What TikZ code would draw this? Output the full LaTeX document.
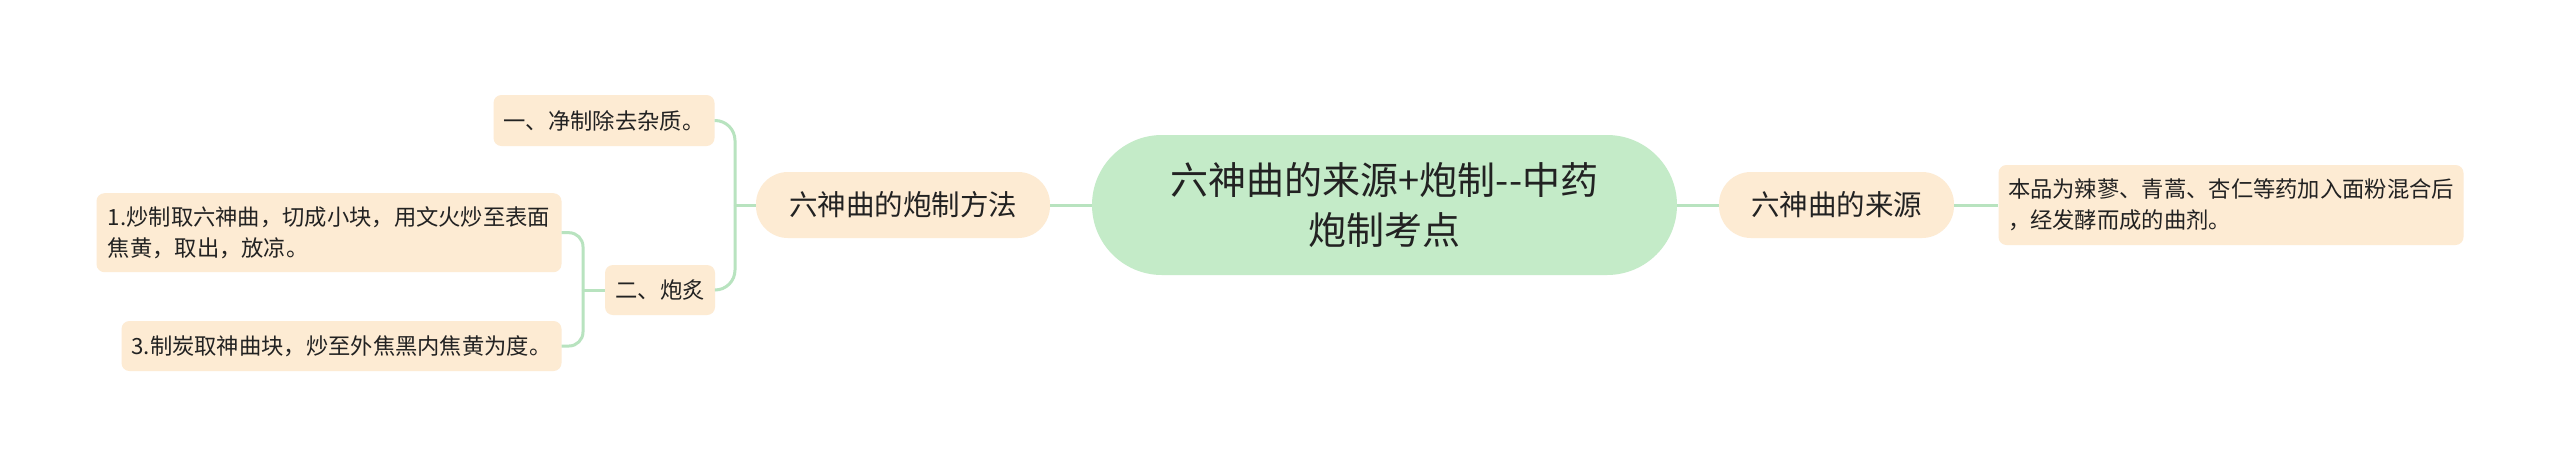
\documentclass[tikz,border=0pt]{standalone}
\usepackage{fontspec}
\setmainfont{Noto Sans CJK SC}
\usepackage{tikz}
\usetikzlibrary{positioning,calc}

\definecolor{rootgreen}{HTML}{C4EBC8}
\definecolor{peach}{HTML}{FDEBD3}
\definecolor{linegreen}{HTML}{B8E3BF}
\definecolor{ink}{HTML}{222222}

\tikzset{
  rootbox/.style={fill=rootgreen,rounded corners=70pt,inner sep=0pt,align=center,text=ink,
    minimum width=585pt,minimum height=140pt,font=\fontsize{38pt}{50pt}\selectfont},
  topicbox/.style={fill=peach,rounded corners=32pt,inner sep=0pt,text=ink,
    minimum height=66pt,font=\fontsize{28.5pt}{34pt}\selectfont},
  leafbox/.style={fill=peach,rounded corners=8pt,inner sep=0pt,align=left,text=ink,
    minimum height=50pt,font=\fontsize{22.3pt}{31pt}\selectfont},
  branch/.style={draw=linegreen,line width=3pt}
}

\begin{document}
\begin{tikzpicture}[x=1pt,y=-1pt]
            \useasboundingbox[fill=white] (0,0) rectangle (2560,467);

            % Central topic
            \node[rootbox] (root) at (1384.5,205) {六神曲的来源+炮制-{}-中药\\炮制考点};

            % Main branches
            \node[topicbox,minimum width=294pt] (method) at (903,205) {六神曲的炮制方法};
            \node[topicbox,minimum width=235pt] (source) at (1836.5,205) {六神曲的来源};

            % Right side leaf
            \node[leafbox,minimum width=465pt,minimum height=80pt] (sourceText) at (2231,205)
                {本品为辣蓼、青蒿、杏仁等药加入面粉混合后\\，经发酵而成的曲剂。};

            % Left side leaves
            \node[leafbox,minimum width=221pt,minimum height=51pt] (clean) at (604,120.5) {一、净制除去杂质。};
            \node[leafbox,minimum width=110pt] (process) at (660,290) {二、炮炙};
            \node[leafbox,minimum width=465pt,minimum height=79pt] (fry) at (329,232.7)
                {1.炒制取六神曲，切成小块，用文火炒至表面\\焦黄，取出，放凉。};
            \node[leafbox,minimum width=440pt] (char) at (341.5,346) {3.制炭取神曲块，炒至外焦黑内焦黄为度。};

            % Fork points
            \coordinate (methodFork) at (735,205);
            \coordinate (processFork) at (583,290);

            % Straight branches
            \draw[branch] (root.west) -- (method.east);
            \draw[branch] (root.east) -- (source.west);
            \draw[branch] (source.east) -- (sourceText.west);

            % Left side brackets
            \draw[branch] (method.west) -- (methodFork);
            \draw[branch,rounded corners=20pt] (methodFork) |- (clean.east);
            \draw[branch,rounded corners=20pt] (methodFork) |- (process.east);
            \draw[branch] (process.west) -- (processFork);
            \draw[branch,rounded corners=14pt] (processFork) |- (fry.east);
            \draw[branch,rounded corners=14pt] (processFork) |- (char.east);

        \end{tikzpicture}
\end{document}
